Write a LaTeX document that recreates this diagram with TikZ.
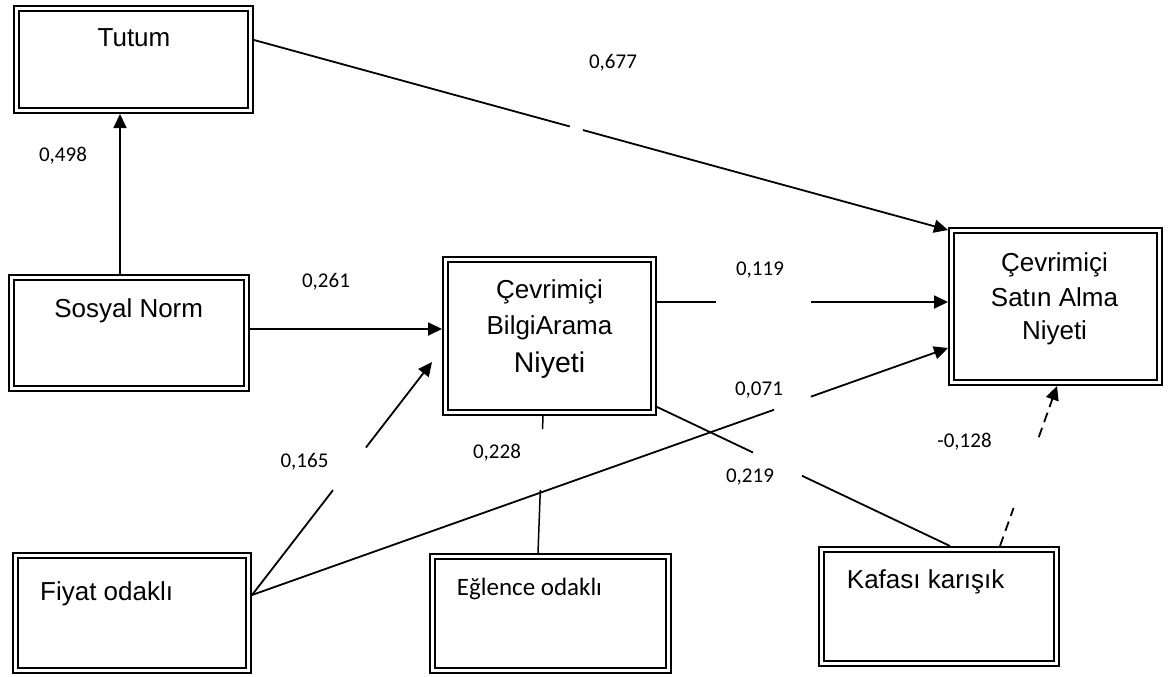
\documentclass[tikz,border=0pt]{standalone}
\usepackage{fontspec}
\setmainfont{Liberation Sans}
\newfontfamily\calfont{Carlito}
\usetikzlibrary{arrows.meta,calc}

\begin{document}
\begin{tikzpicture}[x=1pt,y=-1pt,
  box/.style={draw, double, line width=2.4pt, double distance=2.2pt,
              inner sep=0pt, outer sep=3.5pt, fill=white},
  title/.style={font=\fontsize{26}{31}\selectfont, inner sep=0pt, anchor=base},
  coef/.style={font=\calfont\fontsize{21}{25}\selectfont, inner sep=0pt},
  conn/.style={line width=1.8pt, line cap=butt},
  tip/.style={-{Triangle[length=14pt,width=13pt]}},
]
\useasboundingbox[fill=white] (0,0) rectangle (1170,677);

% ---- boxes ----
\node[box, minimum width=234pt, minimum height=102pt] (tutum)   at (133.5,59.5) {};
\node[box, minimum width=235pt, minimum height=111pt] (sosyal)  at (129,333)    {};
\node[box, minimum width=208pt, minimum height=153pt] (bilgi)   at (549.5,336)  {};
\node[box, minimum width=208pt, minimum height=152pt] (satin)   at (1055.5,306.5) {};
\node[box, minimum width=233pt, minimum height=115pt] (fiyat)   at (132,613)    {};
\node[box, minimum width=236pt, minimum height=114pt] (eglence) at (550.5,613.5) {};
\node[box, minimum width=235pt, minimum height=114pt] (kafasi)  at (939,606.5)  {};

% ---- box texts ----
\node[title] (tutumT)  at (134,47)    {Tutum};
\node[title] (sosyalT) at (128.7,317) {Sosyal Norm};
\node[title] (bilgiT1) at (549.5,298) {Çevrimiçi};
\node[title] (bilgiT2) at (549.5,334) {BilgiArama};
\node[title, font=\fontsize{28.5}{34}\selectfont] (bilgiT3) at (549.5,372) {Niyeti};
\node[title] (satinT1) at (1054.5,271) {Çevrimiçi};
\node[title] (satinT2) at (1054.5,306) {Satın Alma};
\node[title] (satinT3) at (1054.5,339) {Niyeti};
\node[title, anchor=base west] (fiyatT) at (40,600.7) {Fiyat odaklı};
\node[title, anchor=base west, font=\calfont\fontsize{25}{30}\selectfont] (eglenceT) at (456.7,595) {Eğlence odaklı};
\node[title, anchor=base west] (kafasiT) at (846.7,588) {Kafası karışık};

% ---- attachment points ----
\coordinate (tutumOut)   at ([yshift=19.5pt]tutum.east);
\coordinate (satinIn1)   at ([yshift=-3pt]satin.north west);
\coordinate (sosyalTop)  at ([xshift=-9pt]sosyal.north);
\coordinate (tutumIn)    at (sosyalTop |- tutum.south);
\coordinate (sosyalOut)  at ([yshift=4pt]sosyal.east);
\coordinate (bilgiIn1)   at (sosyalOut -| bilgi.west);
\coordinate (bilgiOut1)  at ([yshift=34pt]bilgi.east);
\coordinate (satinIn2)   at (bilgiOut1 -| satin.west);
\coordinate (fiyatOut)   at ([yshift=18pt]fiyat.east);
\coordinate (satinIn3)   at ([yshift=-41.5pt]satin.west);
\coordinate (bilgiIn2)   at ([xshift=-10pt,yshift=-26pt]bilgi.west);
\coordinate (bilgiOut2)  at ([xshift=-2pt,yshift=10pt]bilgi.south east);
\coordinate (kafasiIn1)  at ([xshift=11pt]kafasi.north);
\coordinate (eglenceTop) at ([xshift=-12.5pt]eglence.north);
\coordinate (bilgiBot)   at ([xshift=-6.5pt]bilgi.south);
\coordinate (kafasiOut)  at ([xshift=61pt]kafasi.north);
\coordinate (satinIn4)   at ([xshift=1.5pt]satin.south);

% ---- paths ----
% Sosyal Norm -> Tutum
\draw[conn, tip] (sosyalTop) -- (tutumIn);
% Sosyal Norm -> BilgiArama
\draw[conn, tip] (sosyalOut) -- (bilgiIn1);
% Tutum -> Satin Alma
\draw[conn] (tutumOut) -- ($(tutumOut)!0.455!(satinIn1)$);
\draw[conn, tip] ($(tutumOut)!0.474!(satinIn1)$) -- (satinIn1);
% BilgiArama -> Satin Alma
\draw[conn] (bilgiOut1) -- ($(bilgiOut1)!0.203!(satinIn2)$);
\draw[conn, tip] ($(bilgiOut1)!0.529!(satinIn2)$) -- (satinIn2);
% Fiyat -> Satin Alma
\draw[conn] (fiyatOut) -- ($(fiyatOut)!0.75!(satinIn3)$);
\draw[conn, tip] ($(fiyatOut)!0.803!(satinIn3)$) -- (satinIn3);
% Fiyat -> BilgiArama
\draw[conn] (fiyatOut) -- ($(fiyatOut)!0.45!(bilgiIn2)$);
\draw[conn, tip] ($(fiyatOut)!0.633!(bilgiIn2)$) -- (bilgiIn2);
% BilgiArama -- Kafasi karisik
\draw[conn] (bilgiOut2) -- ($(bilgiOut2)!0.332!(kafasiIn1)$);
\draw[conn] ($(bilgiOut2)!0.498!(kafasiIn1)$) -- (kafasiIn1);
% Eglence -- BilgiArama
\draw[conn, line width=1.5pt] (eglenceTop) -- ($(eglenceTop)!0.46!(bilgiBot)$);
\draw[conn, line width=1.5pt] ($(eglenceTop)!0.905!(bilgiBot)$) -- (bilgiBot);
% Kafasi karisik -> Satin Alma (dashed)
\draw[conn, dash pattern=on 10pt off 6pt] (kafasiOut) -- ($(kafasiOut)!0.2375!(satinIn4)$);
\draw[conn, tip, dash pattern=on 10pt off 6pt] ($(kafasiOut)!0.68!(satinIn4)$) -- (satinIn4);

% ---- coefficients ----
\node[coef] (k677) at (613,63)    {0,677};
\node[coef] (k498) at (63,156)    {0,498};
\node[coef] (k261) at (326,281.5) {0,261};
\node[coef] (k119) at (760,270)   {0,119};
\node[coef] (k071) at (759,390)   {0,071};
\node[coef] (k165) at (304.5,461.5) {0,165};
\node[coef] (k228) at (497,453)   {0,228};
\node[coef] (k219) at (750,477)   {0,219};
\node[coef] (k128) at (964.5,441.5) {-0,128};
\end{tikzpicture}
\end{document}
